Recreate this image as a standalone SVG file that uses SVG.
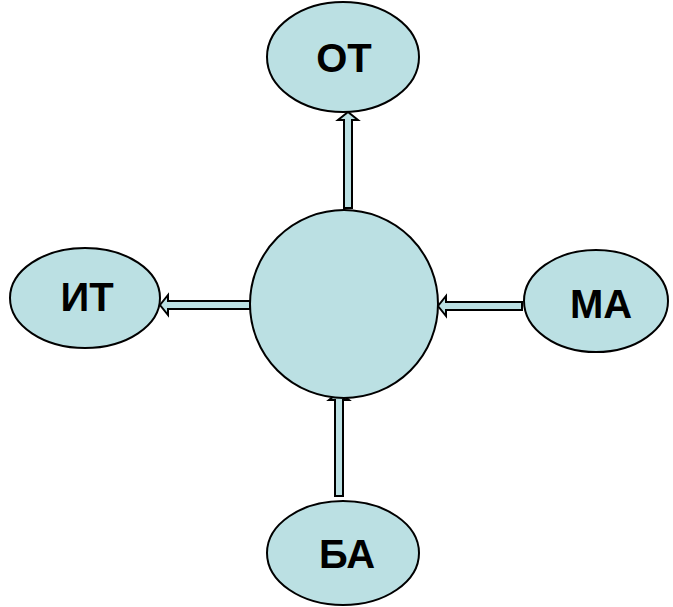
<svg xmlns="http://www.w3.org/2000/svg" width="673" height="607" viewBox="0 0 673 607">
<style>
.n{fill:#bbe0e3;stroke:#000;stroke-width:2}
.a{fill:#bbe0e3;stroke:#000;stroke-width:2;stroke-linejoin:miter}
.t{font-family:"Liberation Sans",Arial,sans-serif;font-weight:bold;font-size:40px;text-anchor:middle;fill:#000}
</style>
<rect width="673" height="607" fill="#fff"/>
<g id="connectors">
<polygon class="a" points="344,208 344,120 338,120 348,112 358,120 352,120 352,208"/>
<polygon class="a" points="250,301 168,301 168,295 160,305 168,315 168,309 250,309"/>
<polygon class="a" points="522,302 446,302 446,296 438,306 446,316 446,310 522,310"/>
<polygon class="a" points="335,496 335,400 329,400 339,392 349,400 343,400 343,496"/>
</g>
<g id="center"><circle class="n" cx="344" cy="304" r="94"/></g>
<g id="OT"><ellipse class="n" cx="343" cy="57" rx="76" ry="55"/><text class="t" x="344" y="72">ОТ</text></g>
<g id="IT"><ellipse class="n" cx="85" cy="298" rx="75" ry="50"/><text class="t" x="87" y="311">ИТ</text></g>
<g id="MA"><ellipse class="n" cx="596" cy="301" rx="72" ry="51"/><text class="t" x="601" y="318">МА</text></g>
<g id="BA"><ellipse class="n" cx="343" cy="553" rx="76" ry="52"/><text class="t" x="347" y="568">БА</text></g>
</svg>
